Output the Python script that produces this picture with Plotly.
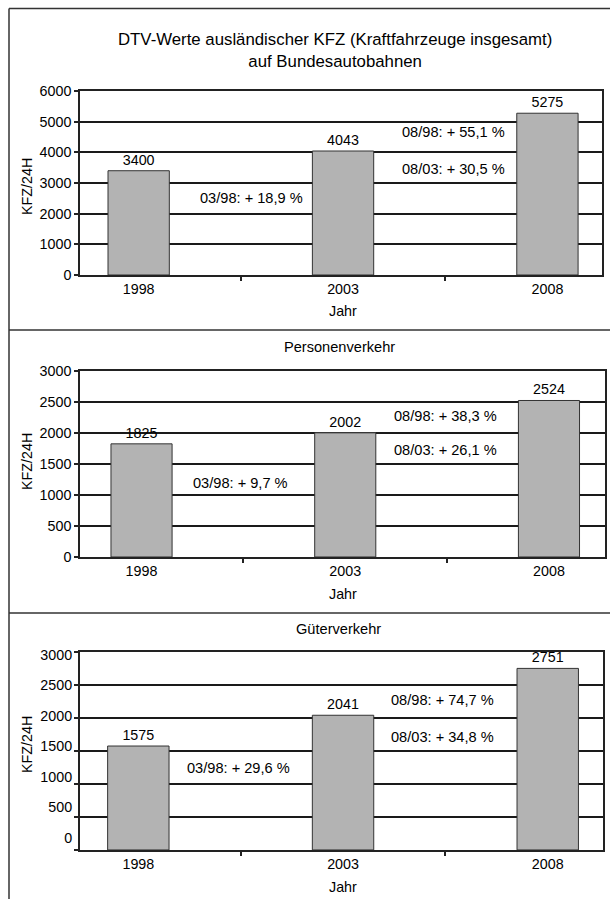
import plotly.graph_objects as go

# ---------------- data ----------------
years = ["1998", "2003", "2008"]
gesamt = [3400, 4043, 5275]
personen = [1825, 2002, 2524]
gueter = [1575, 2041, 2751]

title_main = "DTV-Werte ausländischer KFZ (Kraftfahrzeuge insgesamt)<br>auf Bundesautobahnen"
subtitles = ["Personenverkehr", "Güterverkehr"]
y_title = "KFZ/24H"
x_title = "Jahr"

W, H = 610, 907
FONT = "Liberation Sans, Arial, sans-serif"

# the photographed page sits slightly lower / shorter than the figure;
# map the wanted picture position back to a figure position
V_OFF, V_SCALE = 8.0, 0.9824


def px(x):
    return x / W


def py(y):
    fy = max(0.6, (y - V_OFF) / V_SCALE)
    return 1 - fy / H


def pct(a, b):
    return ("+ %.1f %%" % ((b / a - 1) * 100)).replace(".", ",")


panels = [
    dict(vals=gesamt, yr=[0, 6000], dt=1000, top=91, bot=275, left=80, right=602,
         xr=[-0.287, 2.267],
         p0898=(1.538, 4663), p0803=(1.538, 3457), p0398=(0.55, 2511),
         ytc=187, jahr=311, label_range=None),
    dict(vals=personen, yr=[0, 3000], dt=500, top=371, bot=557, left=80, right=605,
         xr=[-0.302, 2.275],
         p0898=(1.492, 2279), p0803=(1.492, 1726), p0398=(0.485, 1189),
         ytc=462, jahr=594, label_range=None),
    # in the original the tick labels of this panel drift off their grid lines
    dict(vals=gueter, yr=[0, 3000], dt=500, top=652, bot=850, left=80, right=603,
         xr=[-0.285, 2.27],
         p0898=(1.488, 2273), p0803=(1.488, 1717), p0398=(0.487, 1237),
         ytc=745, jahr=887, label_range=[-197, 3049]),
]

fig = go.Figure()
annotations = []
shapes = []


def paper_text(x, y, text, size, angle=0):
    return dict(
        x=px(x), y=py(y), xref="paper", yref="paper", text=text,
        xanchor="center", yanchor="middle", textangle=angle, showarrow=False,
        font=dict(family=FONT, size=size, color="#000"),
    )


TICKFONT = dict(family=FONT, size=14.3, color="#000")

for i, p in enumerate(panels):
    n = "" if i == 0 else str(i + 1)
    xa, ya = "x" + n, "y" + n
    v = p["vals"]
    fig.add_trace(go.Bar(
        x=years, y=v, xaxis=xa, yaxis=ya, width=0.30,
        marker=dict(color="#b3b3b3", line=dict(color="#333333", width=1)),
        text=[str(t) for t in v], textposition="outside", cliponaxis=False,
        textfont=dict(family=FONT, size=14.3, color="#000"),
        showlegend=False, hoverinfo="skip",
    ))
    axis_common = dict(
        showline=True, linecolor="#222", linewidth=1.5, mirror=True,
        ticks="outside", ticklen=4, tickcolor="#222", tickwidth=1.5,
        tickfont=TICKFONT,
    )
    fig.layout["xaxis" + n] = dict(
        axis_common, type="category", range=p["xr"], tickson="boundaries",
        domain=[px(p["left"]), px(p["right"])], anchor=ya, showgrid=False,
        fixedrange=True,
    )
    fig.layout["yaxis" + n] = dict(
        axis_common, range=p["yr"], dtick=p["dt"], showgrid=True,
        gridcolor="#1a1a1a", gridwidth=1.6, zeroline=False,
        domain=[py(p["bot"]), py(p["top"])], anchor=xa, fixedrange=True,
        showticklabels=p["label_range"] is None,
    )
    if p["label_range"] is not None:
        fig.layout["yaxis4"] = dict(
            overlaying=ya, anchor=xa, side="left", range=p["label_range"],
            tickmode="array", tickvals=list(range(0, p["yr"][1] + 1, p["dt"])),
            ticks="outside", ticklen=4, tickcolor="rgba(0,0,0,0)",
            showgrid=False, zeroline=False, showline=False,
            tickfont=TICKFONT, fixedrange=True,
        )
        fig.add_trace(go.Scatter(
            x=[years[0]], y=[p["yr"][0]], xaxis=xa, yaxis="y4",
            mode="markers", marker=dict(opacity=0), showlegend=False,
            hoverinfo="skip",
        ))
    labels = [
        (p["p0898"], pct(v[0], v[2]), "08/98: "),
        (p["p0803"], pct(v[1], v[2]), "08/03: "),
        (p["p0398"], pct(v[0], v[1]), "03/98: "),
    ]
    for (xx, yy), txt, pre in labels:
        annotations.append(dict(
            x=xx, y=yy, xref=xa, yref=ya, text=pre + txt, showarrow=False,
            xanchor="center", yanchor="middle",
            font=dict(family=FONT, size=14.6, color="#000"),
        ))
    annotations.append(paper_text(27, p["ytc"], y_title, 14.3, -90))
    annotations.append(paper_text(343, p["jahr"], x_title, 14.3))

annotations.append(paper_text(335, 50.5, title_main, 16.8))
annotations.append(paper_text(339, 347, subtitles[0], 14.6))
annotations.append(paper_text(338, 629, subtitles[1], 14.6))

border = dict(color="#333333", width=1.5)
shapes += [
    dict(type="line", xref="paper", yref="paper", x0=px(9), x1=px(9), y0=py(7), y1=0, line=border),
    dict(type="line", xref="paper", yref="paper", x0=px(9), x1=1, y0=py(7), y1=py(7), line=border),
    dict(type="line", xref="paper", yref="paper", x0=px(9), x1=1, y0=py(330), y1=py(330), line=border),
    dict(type="line", xref="paper", yref="paper", x0=px(9), x1=1, y0=py(613), y1=py(613), line=border),
]

fig.update_layout(
    width=W, height=H, margin=dict(l=0, r=0, t=0, b=0),
    paper_bgcolor="white", plot_bgcolor="white",
    annotations=annotations, shapes=shapes, bargap=0.7,
    font=dict(family=FONT, color="#000"),
)

fig.write_html(
    "out.html",
    config={"displayModeBar": False},
    post_script=(
        "document.documentElement.style.margin='0';"
        "document.body.style.margin='0';"
        "document.body.style.overflow='hidden';"
    ),
)
